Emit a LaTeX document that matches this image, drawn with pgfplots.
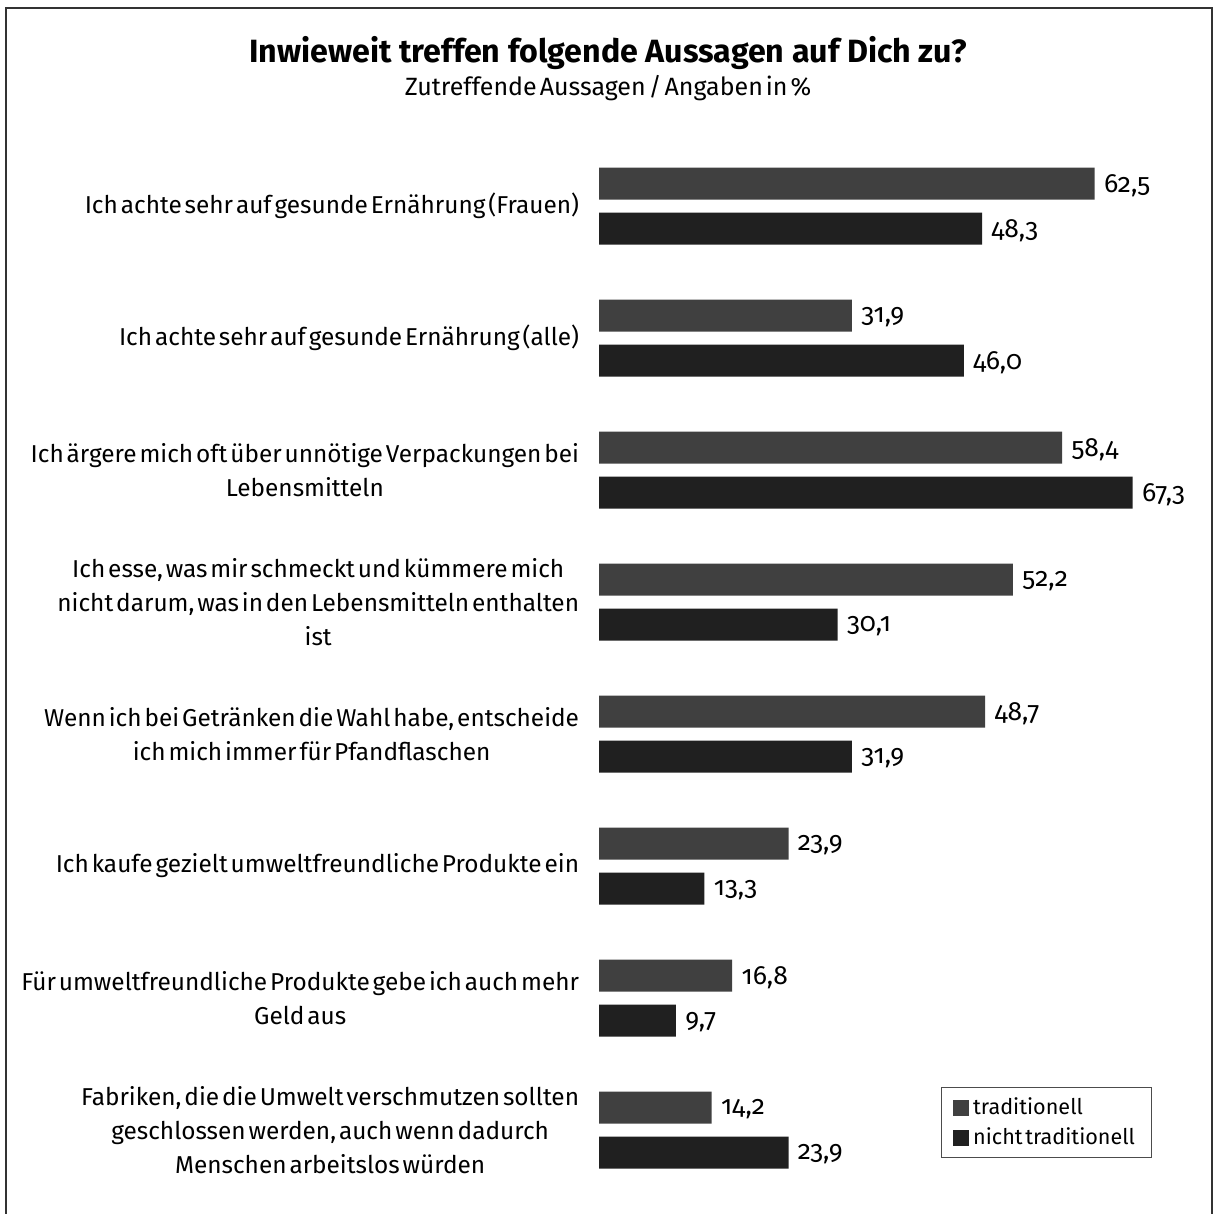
\documentclass[border=0pt]{standalone}
\usepackage{pgfplots}
\pgfplotsset{compat=1.18}
\usepackage{fontspec}
\setmainfont{Fira Sans}[Numbers=OldStyle, WordSpace=0.45]
\newfontfamily\titlefont{Fira Sans}
\definecolor{cgrey}{HTML}{404040}
\definecolor{cblack}{HTML}{202020}
\definecolor{cframe}{HTML}{333333}
\begin{document}
\begin{tikzpicture}
\path[use as bounding box] (0,0) rectangle (608pt,-607pt);
\draw[line width=1pt, color=cframe] (3pt,-4pt) rectangle (606pt,-610pt);
\node[font=\titlefont\bfseries\fontsize{16.1}{20}\selectfont] at (304pt,-26.5pt) {Inwieweit treffen folgende Aussagen auf Dich zu?};
\node[font=\fontsize{12.5}{14}\selectfont] at (304pt,-44pt) {Zutreffende Aussagen / Angaben in \%};
\begin{axis}[
  at={(299.5pt,-70pt)}, anchor=north west,
  x=3.965pt, y=66pt, y dir=reverse,
  xmin=0, xmax=75, ymin=-0.5, ymax=7.5,
  xbar, bar width=16pt,
  axis line style={draw=none}, tick style={draw=none},
  xtick=\empty,
  ytick={0,...,7},
  yticklabels={
    {Ich achte sehr auf gesunde Ernährung (Frauen)},
    {Ich achte sehr auf gesunde Ernährung (alle)},
    {Ich ärgere mich oft über unnötige Verpackungen bei\\Lebensmitteln},
    {Ich esse, was mir schmeckt und kümmere mich\\nicht darum, was in den Lebensmitteln enthalten\\ist},
    {Wenn ich bei Getränken die Wahl habe, entscheide\\ich mich immer für Pfandflaschen},
    {Ich kaufe gezielt umweltfreundliche Produkte ein},
    {Für umweltfreundliche Produkte gebe ich auch mehr\\Geld aus},
    {Fabriken, die die Umwelt verschmutzen sollten\\geschlossen werden, auch wenn dadurch\\Menschen arbeitslos würden}},
  yticklabel style={align=center, anchor=east, inner sep=0pt, xshift=-5.5pt, font=\fontsize{12.2}{17}\selectfont},
  /pgf/number format/.cd, use comma, fixed, fixed zerofill, precision=1, assume math mode=true,
  /pgfplots/.cd,
  nodes near coords,
  nodes near coords style={anchor=west, inner sep=0pt, xshift=4.5pt, yshift=-1pt, font=\fontsize{13.2}{15}\selectfont, text=black},
  legend style={at={(0.929,0.103)}, anchor=north east, draw=black!70, line width=0.5pt, font=\fontsize{10.8}{13}\selectfont, row sep=1pt, inner xsep=6pt, inner ysep=3pt, cells={anchor=west}},
  legend cell align=left,
  legend image code/.code={\fill[#1] (0pt,-4pt) rectangle (8pt,4pt);},
]
\addplot[fill=cgrey, draw=none, bar shift=11.25pt] coordinates {(62.5,0) (31.9,1) (58.4,2) (52.2,3) (48.7,4) (23.9,5) (16.8,6) (14.2,7)};
\addplot[fill=cblack, draw=none, bar shift=-11.25pt] coordinates {(48.3,0) (46.0,1) (67.3,2) (30.1,3) (31.9,4) (13.3,5) (9.7,6) (23.9,7)};
\legend{traditionell, nicht traditionell}
\end{axis}
\end{tikzpicture}
\end{document}
